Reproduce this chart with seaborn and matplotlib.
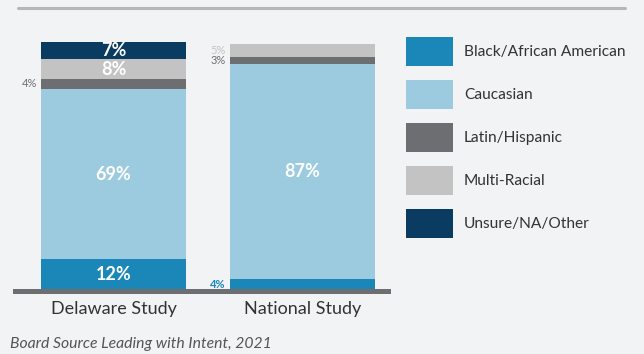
import matplotlib
matplotlib.use("Agg")
import matplotlib.pyplot as plt
import seaborn as sns
import numpy as np
from matplotlib.patches import Patch, Rectangle
from matplotlib.lines import Line2D

# ---- data ----
studies = ["Delaware Study", "National Study"]
groups = ["Black/African American", "Caucasian", "Latin/Hispanic", "Multi-Racial", "Unsure/NA/Other"]
black = [12, 4]
caucasian = [69, 87]
latin = [4, 3]
multi = [8, 5]
unsure = [7, 0]
colors = ["#1a87b8", "#9ccbe0", "#6d6e71", "#c2c3c2", "#0a3b61"]
source = "Board Source Leading with Intent, 2021"

W, H = 644, 354
bg = "#f2f3f5"
sns.set_theme(style="white")
plt.rcParams["font.family"] = ["Lato", "DejaVu Sans"]

fig = plt.figure(figsize=(6.44, 3.54), dpi=100, facecolor=bg)


def fx(px):
    return px / W


def fy(py):
    return 1 - py / H


ax = fig.add_axes([fx(13), fy(289), fx(391) - fx(13), fy(42) - fy(289)])
ax.set_facecolor(bg)

series = [black, caucasian, latin, multi, unsure]
arr = np.array(series, dtype=float)
cum = np.cumsum(arr, axis=0)
bw = 0.767
for i in reversed(range(len(series))):
    sns.barplot(x=studies, y=cum[i], order=studies, color=colors[i], width=bw,
                saturation=1, linewidth=0, ax=ax)

ax.set_xlim(-0.532, 1.468)
ax.set_ylim(0, 100)
for s in ax.spines.values():
    s.set_visible(False)
ax.set_yticks([])
ax.set_ylabel("")
ax.set_xlabel("")
ax.set_xticks([0, 1])
ax.set_xticklabels(studies, fontsize=13, color="#333333")
ax.tick_params(axis="x", length=0, pad=8.5)

# value labels
for j in range(len(studies)):
    for i in range(len(series)):
        v = arr[i, j]
        if v <= 0:
            continue
        mid = cum[i, j] - v / 2
        if v >= 7:
            ax.text(j, mid, f"{int(v)}%", ha="center", va="center", color="white",
                    fontsize=13, fontweight="bold")
        else:
            ax.annotate(f"{int(v)}%", xy=(j - bw / 2, mid), xytext=(-3, 0),
                        textcoords="offset points", ha="right", va="center",
                        color=colors[i], fontsize=8,
                        fontweight="bold" if i == 0 else "normal",
                        annotation_clip=False)

# decorations
fig.add_artist(Line2D([fx(18), fx(625)], [fy(8), fy(8)], color="#b5b6b8", lw=2.2,
                      transform=fig.transFigure))
fig.add_artist(Rectangle((fx(13), fy(294)), fx(391) - fx(13), fy(289) - fy(294),
                         transform=fig.transFigure, facecolor="#6d6e71", edgecolor="none"))

# legend
fs = 11.2
fpx = fs * 100 / 72
hh = (29 / fpx - 0.245) / 0.65
handles = [Patch(facecolor=c, edgecolor="none", label=g) for c, g in zip(colors, groups)]
leg = fig.legend(handles=handles, loc="upper left", bbox_to_anchor=(fx(406), fy(37)),
                 frameon=False, fontsize=fs, handlelength=47 / fpx, handleheight=hh,
                 labelspacing=14 / fpx, handletextpad=11 / fpx, borderpad=0, borderaxespad=0)
for t in leg.get_texts():
    t.set_color("#333333")

fig.text(fx(10), fy(344), source, style="italic", fontsize=11.3, color="#555555", va="center")

fig.savefig("out.png", dpi=100, facecolor=bg)
